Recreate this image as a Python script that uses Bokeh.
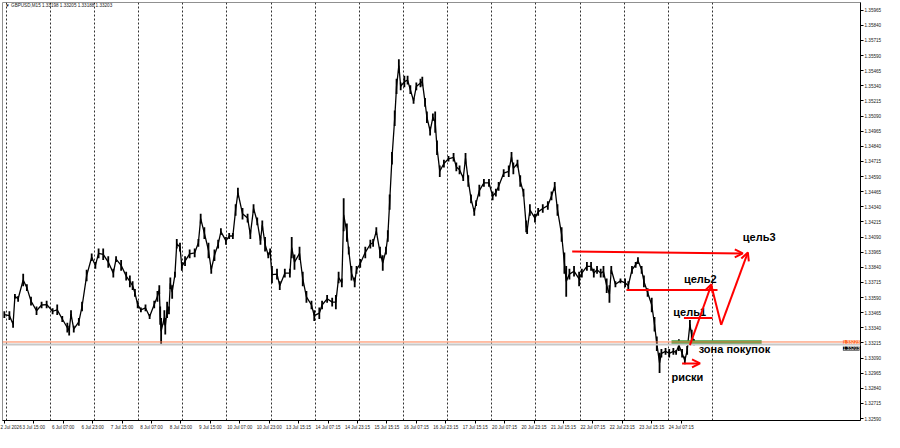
from bokeh.plotting import figure
from bokeh.models import (ColumnDataSource, FixedTicker, Grid, Span, Label,
                          Arrow, OpenHead, NumeralTickFormatter)
from bokeh.core.properties import value
from bokeh.embed import file_html
from bokeh.resources import INLINE

# GBPUSD M15, bar index (15-minute bars since 2 Jul 23:00), high/low
bars = [0, 11, 19, 23, 30, 41, 49, 58, 70, 81,
        92, 105, 115, 126, 137, 141, 145, 151, 162, 169,
        179, 190, 198, 205, 215, 226, 237, 243, 254, 265,
        273, 279, 284, 290, 297, 307, 316, 326, 333, 337,
        339, 341, 348, 350, 354, 358, 361, 365, 371, 375,
        382, 386, 393, 403, 414, 422, 427, 435, 444, 450,
        457, 465, 471, 482, 489, 497, 503, 508, 518, 529,
        535, 542, 550, 557, 561, 567, 574, 578, 582, 593,
        599, 610, 621, 625, 631, 642, 649, 657, 668, 674,
        685, 691, 702, 713, 721, 727, 734, 738, 745, 749,
        755, 762, 766, 774, 785, 796, 802, 809, 817, 823,
        830, 834, 838, 843, 849, 853, 858, 862, 870, 877,
        883, 890, 896, 905, 909, 915, 919, 926, 932, 937,
        941, 947, 956, 966, 977, 983, 990, 998, 1003, 1009,
        1015, 1022, 1026, 1033, 1043, 1054, 1062, 1069, 1075, 1086,
        1097, 1103, 1107, 1116, 1122, 1129, 1135, 1137, 1143, 1154,
        1161, 1171, 1182, 1190, 1197, 1203, 1212, 1218, 1222, 1229,
        1239, 1250, 1256, 1267, 1276, 1282, 1289, 1297, 1303, 1310,
        1316, 1320, 1329, 1340, 1350, 1357, 1365, 1373, 1378, 1386,
        1391, 1399, 1408, 1414, 1419, 1425, 1429, 1438, 1446, 1455,
        1461, 1467, 1474, 1480, 1485, 1491, 1495, 1500]

high = [1.33477, 1.33477, 1.33397, 1.33620, 1.33604, 1.33788, 1.33700, 1.33596, 1.33517, 1.33556,
        1.33564, 1.33501, 1.33532, 1.33437, 1.33381, 1.33357, 1.33485, 1.33357, 1.33421, 1.33556,
        1.33820, 1.33955, 1.33884, 1.33995, 1.33995, 1.33931, 1.33828, 1.33931, 1.33900, 1.33804,
        1.33772, 1.33724, 1.33660, 1.33564, 1.33509, 1.33532, 1.33453, 1.33564, 1.33644, 1.33692,
        1.33517, 1.33421, 1.33485, 1.33421, 1.33556, 1.33517, 1.33756, 1.33692, 1.33804, 1.34075,
        1.34043, 1.33884, 1.33931, 1.33987, 1.33995, 1.34075, 1.34283, 1.34171, 1.34043, 1.33852,
        1.33987, 1.34067, 1.34163, 1.34091, 1.34123, 1.34123, 1.34362, 1.34498, 1.34330, 1.34283,
        1.34147, 1.34362, 1.34251, 1.34091, 1.34227, 1.34091, 1.33963, 1.33995, 1.33852, 1.33828,
        1.33724, 1.33828, 1.33828, 1.34091, 1.33947, 1.34011, 1.33804, 1.33644, 1.33564, 1.33485,
        1.33509, 1.33564, 1.33612, 1.33588, 1.33612, 1.33804, 1.33748, 1.34410, 1.34203, 1.34011,
        1.33852, 1.33756, 1.33852, 1.33908, 1.34011, 1.34067, 1.34075, 1.34171, 1.34011, 1.33940,
        1.34011, 1.34147, 1.34442, 1.34793, 1.35136, 1.35399, 1.35559, 1.35367, 1.35423, 1.35423,
        1.35344, 1.35240, 1.35367, 1.35399, 1.35415, 1.35240, 1.35128, 1.35001, 1.35112, 1.35128,
        1.34889, 1.34682, 1.34730, 1.34761, 1.34785, 1.34706, 1.34682, 1.34602, 1.34785, 1.34602,
        1.34442, 1.34330, 1.34394, 1.34522, 1.34570, 1.34570, 1.34466, 1.34490, 1.34546, 1.34650,
        1.34682, 1.34793, 1.34706, 1.34730, 1.34602, 1.34490, 1.34227, 1.34171, 1.34362, 1.34283,
        1.34330, 1.34362, 1.34386, 1.34466, 1.34546, 1.34362, 1.34171, 1.33963, 1.33852, 1.33828,
        1.33852, 1.33804, 1.33828, 1.33884, 1.33884, 1.33828, 1.33852, 1.33828, 1.33852, 1.33748,
        1.33692, 1.33852, 1.33724, 1.33748, 1.33748, 1.33724, 1.33852, 1.33884, 1.33924, 1.33852,
        1.33772, 1.33668, 1.33588, 1.33429, 1.33269, 1.33134, 1.33165, 1.33173, 1.33165, 1.33173,
        1.33157, 1.33245, 1.33165, 1.33102, 1.33189, 1.33405, 1.33325, 1.33245]

low = [1.33421, 1.33405, 1.33341, 1.33580, 1.33556, 1.33684, 1.33644, 1.33525, 1.33445, 1.33501,
       1.33501, 1.33453, 1.33445, 1.33389, 1.33301, 1.33277, 1.33421, 1.33301, 1.33357, 1.33477,
       1.33724, 1.33892, 1.33828, 1.33916, 1.33900, 1.33836, 1.33756, 1.33884, 1.33812, 1.33732,
       1.33676, 1.33652, 1.33596, 1.33501, 1.33469, 1.33477, 1.33413, 1.33501, 1.33556, 1.33620,
       1.33365, 1.33205, 1.33365, 1.33285, 1.33421, 1.33453, 1.33660, 1.33580, 1.33756, 1.33995,
       1.33971, 1.33812, 1.33852, 1.33916, 1.33924, 1.34011, 1.34203, 1.34075, 1.33916, 1.33788,
       1.33892, 1.33995, 1.34107, 1.34027, 1.34075, 1.34075, 1.34267, 1.34418, 1.34235, 1.34211,
       1.34075, 1.34291, 1.34187, 1.34027, 1.34155, 1.33971, 1.33916, 1.33947, 1.33708, 1.33740,
       1.33652, 1.33756, 1.33756, 1.33916, 1.33820, 1.33900, 1.33684, 1.33548, 1.33493, 1.33397,
       1.33413, 1.33493, 1.33548, 1.33517, 1.33493, 1.33708, 1.33676, 1.34139, 1.34051, 1.33947,
       1.33732, 1.33676, 1.33788, 1.33836, 1.33916, 1.33995, 1.34011, 1.34107, 1.33916, 1.33812,
       1.33947, 1.34051, 1.34315, 1.34690, 1.35009, 1.35272, 1.35455, 1.35304, 1.35328, 1.35352,
       1.35272, 1.35192, 1.35304, 1.35328, 1.35336, 1.35168, 1.35033, 1.34929, 1.35049, 1.34953,
       1.34769, 1.34586, 1.34666, 1.34714, 1.34714, 1.34634, 1.34610, 1.34554, 1.34698, 1.34506,
       1.34370, 1.34267, 1.34346, 1.34426, 1.34506, 1.34506, 1.34394, 1.34426, 1.34474, 1.34586,
       1.34586, 1.34714, 1.34610, 1.34666, 1.34506, 1.34426, 1.34131, 1.34115, 1.34267, 1.34211,
       1.34267, 1.34291, 1.34315, 1.34394, 1.34474, 1.34267, 1.34051, 1.33788, 1.33596, 1.33740,
       1.33764, 1.33684, 1.33756, 1.33812, 1.33812, 1.33756, 1.33788, 1.33756, 1.33756, 1.33628,
       1.33548, 1.33788, 1.33676, 1.33708, 1.33676, 1.33652, 1.33788, 1.33836, 1.33868, 1.33788,
       1.33676, 1.33596, 1.33469, 1.33309, 1.33149, 1.32966, 1.33094, 1.33118, 1.33094, 1.33118,
       1.33118, 1.33149, 1.33094, 1.33038, 1.33118, 1.33333, 1.33229, 1.33197]

time_labels = ["2 Jul 2026", "3 Jul 15:00", "6 Jul 07:00", "6 Jul 23:00", "7 Jul 15:00",
               "8 Jul 07:00", "8 Jul 23:00", "9 Jul 15:00", "10 Jul 07:00", "10 Jul 23:00",
               "13 Jul 15:15", "14 Jul 07:15", "14 Jul 23:15", "15 Jul 15:15", "16 Jul 07:15",
               "16 Jul 23:15", "17 Jul 15:15", "20 Jul 07:15", "20 Jul 23:15", "21 Jul 15:15",
               "22 Jul 07:15", "22 Jul 23:15", "23 Jul 15:15", "24 Jul 07:15"]
bars_per_label = 64      # 16 hours of M15 bars
first_midnight = 4       # 3 Jul 00:00
bars_per_day = 96

price_low_tick = 1.32590
price_step = 0.00125
n_price_ticks = 28

bid = 1.33203
ask = 1.33223
header = "GBPUSD,M15  1.33198 1.33205 1.33188 1.33203"

# drawn analysis (red arrows, levels, buy zone)
arrow_x0 = [1235, 1491, 1559, 1474]
arrow_y0 = [1.33971, 1.33197, 1.33365, 1.33046]
arrow_x1 = [1606, 1538, 1617, 1513]
arrow_y1 = [1.33955, 1.33700, 1.33963, 1.33046]

level_x0 = [1353, 1478, 1538]
level_y0 = [1.33652, 1.33421, 1.33684]
level_x1 = [1551, 1540, 1559]
level_y1 = [1.33652, 1.33421, 1.33365]

zone_left, zone_right = 1451, 1647
zone_bottom, zone_top = 1.33205, 1.33237

note_text = ["цель3", "цель2", "цель1", "зона покупок", "риски"]
note_x = [1606, 1478, 1455, 1510, 1451]
note_y = [1.34091, 1.33740, 1.33469, 1.33165, 1.32934]

mid = [(h + l) / 2 for h, l in zip(high, low)]
src = ColumnDataSource(data=dict(x=bars, high=high, low=low, mid=mid))

FONT = "Liberation Sans"
x_end = 1862
p = figure(width=884, height=432, x_range=(-4, x_end), y_range=(1.32574, 1.36029),
           y_axis_location="right", output_backend="svg", toolbar_location=None,
           tools="", min_border_left=2, min_border_top=2, min_border_right=0,
           min_border_bottom=0)
p.outline_line_color = "#909090"
p.xgrid.visible = False
p.ygrid.visible = False

# day separators
sep = Grid(dimension=0, ticker=FixedTicker(
    ticks=list(range(first_midnight, 1541, bars_per_day))))
sep.grid_line_color = "#303030"
sep.grid_line_dash = "2 2"
sep.grid_line_width = 1
p.add_layout(sep)

# bid / ask lines
p.add_layout(Span(location=bid, dimension="width", line_color="#c8c8c8", line_width=2))
p.add_layout(Span(location=ask, dimension="width", line_color="#ff7f50", line_width=1))

# price bars
p.segment(x0="x", y0="low", x1="x", y1="high", source=src, line_color="black", line_width=1.8)
p.line(x="x", y="mid", source=src, line_color="black", line_width=1.3)

# buy zone
p.quad(left=[zone_left], right=[zone_right], bottom=[zone_bottom], top=[zone_top],
       fill_color="#3f9f3f", line_color=None)

# levels and arrows
p.segment(x0=level_x0, y0=level_y0, x1=level_x1, y1=level_y1, line_color="red", line_width=2)
for x0, y0, x1, y1 in zip(arrow_x0, arrow_y0, arrow_x1, arrow_y1):
    p.add_layout(Arrow(end=OpenHead(size=8, line_color="red", line_width=2),
                       x_start=x0, y_start=y0, x_end=x1, y_end=y1,
                       line_color="red", line_width=2))

p.text(x=note_x, y=note_y, text=note_text, text_font=value(FONT),
       text_font_style="bold", text_font_size="11px", text_color="black",
       text_align="left", text_baseline="alphabetic")

# x axis
p.xaxis.ticker = FixedTicker(ticks=[i * bars_per_label for i in range(len(time_labels))])
p.xaxis.major_label_overrides = {i * bars_per_label: t for i, t in enumerate(time_labels)}
p.xaxis.major_label_text_align = "left"
p.xaxis.major_label_text_font = FONT
p.xaxis.major_label_text_font_size = "4.6px"
p.xaxis.major_label_text_color = "#202020"
p.xaxis.major_tick_in = 0
p.xaxis.major_tick_out = 3
p.xaxis.minor_tick_line_color = None
p.xaxis.major_label_standoff = 1

# y axis
p.yaxis.ticker = FixedTicker(ticks=[round(price_low_tick + i * price_step, 5)
                                    for i in range(n_price_ticks)])
p.yaxis.formatter = NumeralTickFormatter(format="0.00000")
p.yaxis.major_label_text_font = FONT
p.yaxis.major_label_text_font_size = "4.6px"
p.yaxis.major_label_text_color = "#202020"
p.yaxis.major_tick_in = 0
p.yaxis.major_tick_out = 3
p.yaxis.minor_tick_line_color = None
p.yaxis.major_label_standoff = 1

# price tags at the right edge
p.add_layout(Label(x=x_end, y=ask, text=f"{ask:.5f}", x_offset=-1, text_font=FONT,
                   text_font_size="4.6px", text_color="white",
                   background_fill_color="#ff6a2a", text_baseline="middle",
                   text_align="right"))
p.add_layout(Label(x=x_end, y=bid, text=f"{bid:.5f}", x_offset=-1, y_offset=-4,
                   text_font=FONT, text_font_size="4.6px", text_color="white",
                   background_fill_color="black", text_baseline="middle",
                   text_align="right"))

p.add_layout(Label(x=2, y=1.36005, text="▼ " + header, text_font=FONT,
                   text_font_size="4.6px", text_color="#202020", text_baseline="middle"))

open("out.html", "w").write(file_html(p, INLINE))
